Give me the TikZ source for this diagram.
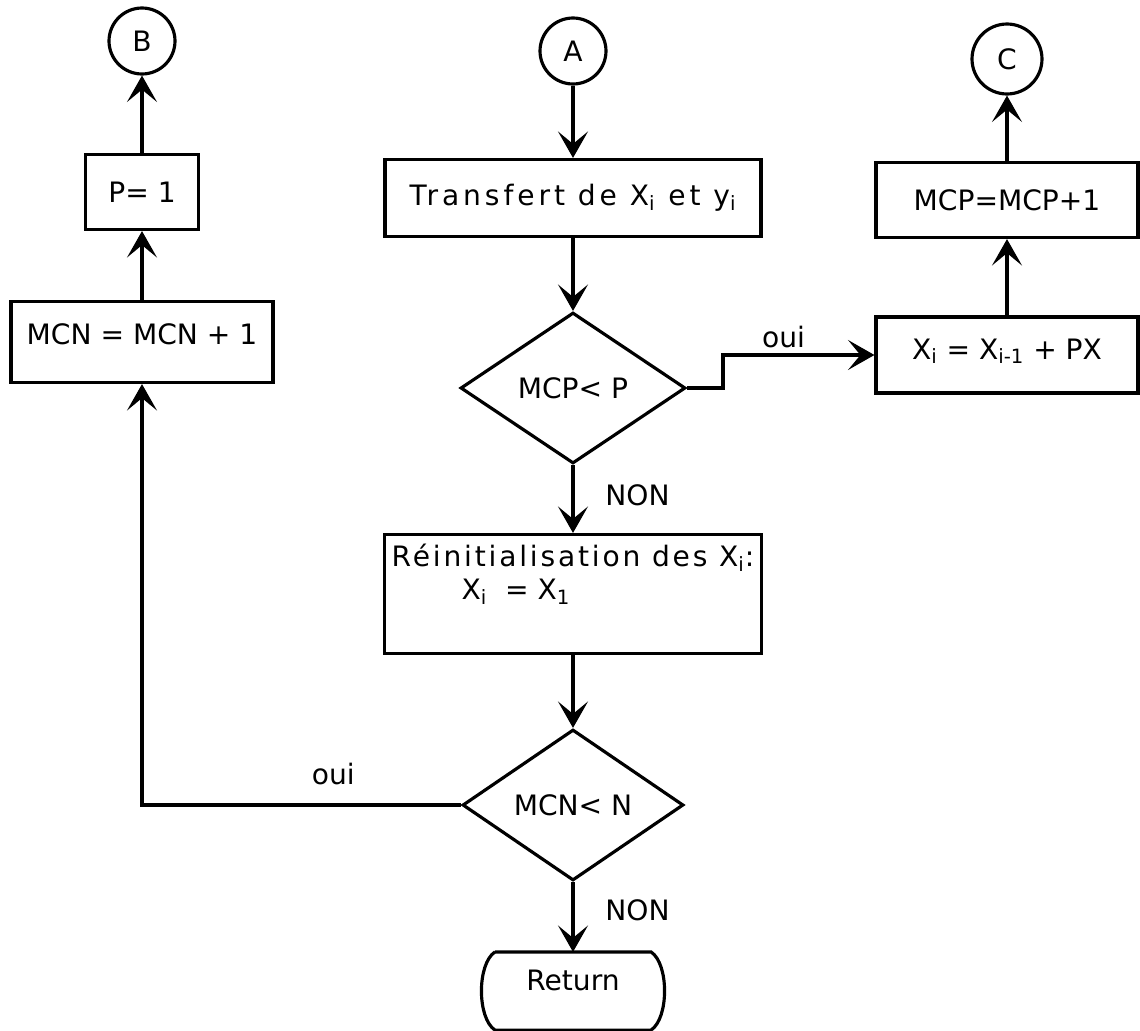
\documentclass[tikz,border=0pt]{standalone}
\usepackage{fontspec}
\setmainfont{DejaVu Sans}
\usetikzlibrary{shapes.geometric,arrows.meta}

\begin{document}
\begin{tikzpicture}[x=0.02cm,y=-0.02cm,line width=1.8pt,
    font=\fontsize{16}{19}\selectfont,
    boite/.style={draw,rectangle,inner sep=2pt},
    test/.style={draw,diamond,inner sep=0pt},
    renvoi/.style={draw,circle,inner sep=0pt,minimum size=1.32cm},
    fleche/.style={-{Stealth[length=15pt,width=17pt,inset=7pt]}}]
    \useasboundingbox (0,0) rectangle (1140,1031);

    \node[renvoi] (B) at (142,41) {B};
    \node[renvoi] (A) at (573,51) {A};
    \node[renvoi,minimum size=1.4cm] (C) at (1007,59) {C};

    \node[boite,minimum width=2.26cm,minimum height=1.5cm] (pbox) at (142,192) {P= 1};
    \node[boite,minimum width=5.24cm,minimum height=1.62cm,text depth=0.3cm] (mcninc) at (142,342) {MCN = MCN + 1};
    \node[boite,minimum width=7.52cm,minimum height=1.54cm] (transf) at (573,198)
        {\addfontfeature{LetterSpace=14}Transfert de X\textsubscript{i} et y\textsubscript{i}};
    \node[test,minimum width=4.5cm,minimum height=3.02cm] (testp) at (573,388) {MCP< P};
    \node[boite,minimum width=5.24cm,minimum height=1.5cm] (mcpinc) at (1007,200) {MCP=MCP+1};
    \node[boite,minimum width=5.24cm,minimum height=1.52cm,text depth=0.25cm] (xi) at (1007,355)
        {X\textsubscript{i} = X\textsubscript{i-1} + PX};
    \node[boite,minimum width=7.54cm,minimum height=2.38cm,align=left] (reinit) at (573,594)
        {\addfontfeature{LetterSpace=10}Réinitialisation des X\textsubscript{i}:\\
         \hspace*{1.4cm}X\textsubscript{i}\ \ = X\textsubscript{1}\hspace*{2.6cm}\\[6pt]};
    \node[test,minimum width=4.42cm,minimum height=3.02cm] (testn) at (573,805) {MCN< N};
    \node[minimum width=3.06cm,minimum height=1.5cm,text depth=0.45cm] (ret) at (573,991) {Return};
    \draw (ret.north west) -- (ret.north east) .. controls +(18,12) and +(18,-12) .. (ret.south east)
        -- (ret.south west) .. controls +(-18,-12) and +(-18,12) .. (ret.north west);

    \draw[fleche] (A) -- (transf);
    \draw[fleche] (transf) -- (testp);
    \draw[fleche] (testp.east) -- ++(36,0) |- node[pos=0.7,above] {oui} (xi);
    \draw[fleche] (xi) -- (mcpinc);
    \draw[fleche] (mcpinc) -- (C);
    \draw[fleche] (testp) -- node[pos=0.45,right=0.5cm] {NON} (reinit);
    \draw[fleche] (reinit) -- (testn);
    \draw[fleche] (testn.west) -| node[pos=0.2,above=0.25cm] {oui} (mcninc);
    \draw[fleche] (mcninc) -- (pbox);
    \draw[fleche] (pbox) -- (B);
    \draw[fleche] (testn) -- node[pos=0.4,right=0.5cm] {NON} (ret);
\end{tikzpicture}
\end{document}
